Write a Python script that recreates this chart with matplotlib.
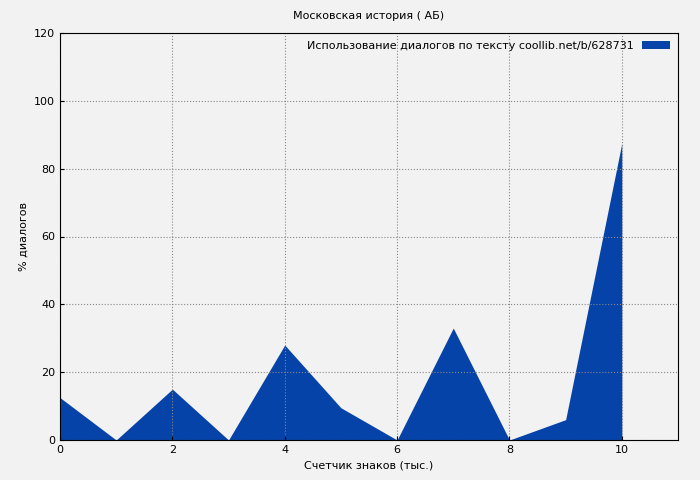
import matplotlib
matplotlib.use("Agg")
import matplotlib.pyplot as plt

x_vals = [0, 1, 2, 3, 4, 5, 6, 7, 8, 9, 10]
dialog_pct = [12.5, 0, 15, 0, 28, 9.5, 0, 33, 0, 6, 87.5]

fig = plt.figure(figsize=(7, 4.8), dpi=100, facecolor="#f2f2f2")
ax = fig.add_axes([60 / 700, 40 / 480, 618 / 700, 407 / 480])
ax.set_facecolor("#f2f2f2")

ax.fill_between(x_vals, dialog_pct, 0, color="#0543a8", linewidth=0,
                label="Использование диалогов по тексту coollib.net/b/628731")

ax.set_xlim(0, 11)
ax.set_ylim(0, 120)
ax.set_xticks([0, 2, 4, 6, 8, 10])
ax.set_yticks([0, 20, 40, 60, 80, 100, 120])
ax.tick_params(labelsize=8, direction="in", length=3)
ax.grid(True, color="#888888", linestyle=":", linewidth=0.8)
ax.set_xlabel("Счетчик знаков (тыс.)", fontsize=8)
ax.set_ylabel("% диалогов", fontsize=8)
ax.set_title("Московская история ( АБ)", fontsize=8, pad=10)
ax.legend(loc="upper right", fontsize=8, frameon=False, markerfirst=False,
          handlelength=2.5, borderaxespad=0.3)

fig.savefig("out.png", dpi=100, facecolor=fig.get_facecolor())
